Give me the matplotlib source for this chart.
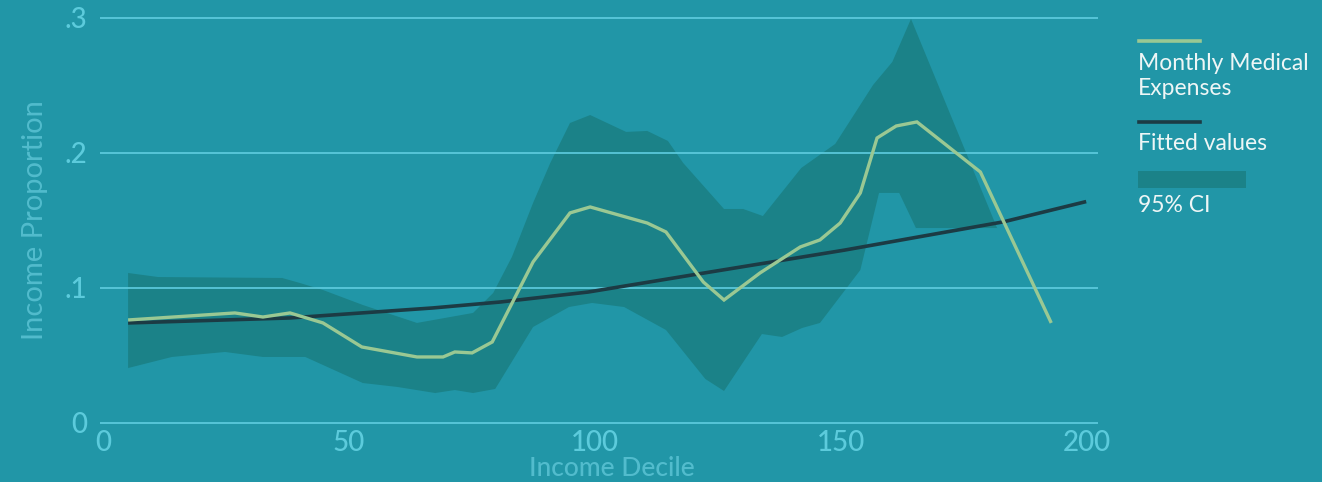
import matplotlib
matplotlib.use("Agg")
import matplotlib.pyplot as plt
from matplotlib.lines import Line2D
from matplotlib.patches import Rectangle

# ---- data ----
med_x = [5.1, 26.8, 32.5, 38.0, 44.7, 52.6, 63.8, 69.1, 71.5, 75.0, 79.1, 87.4, 94.9, 99.0,
         110.6, 114.4, 122.0, 126.2, 133.5, 141.7, 145.7, 149.8, 153.9, 157.3, 161.2, 165.4,
         178.3, 192.7]
med_y = [0.0763, 0.0815, 0.0785, 0.0815, 0.0741, 0.0563, 0.0489, 0.0489, 0.0526, 0.0519,
         0.0600, 0.1193, 0.1556, 0.1600, 0.1481, 0.1415, 0.1044, 0.0911, 0.1111, 0.1304,
         0.1356, 0.1481, 0.1704, 0.2111, 0.2200, 0.2230, 0.1859, 0.0741]

fit_x = [5.1, 38.0, 67.0, 80.7, 98.6, 122.0, 150.6, 166.0, 183.0, 199.8]
fit_y = [0.0741, 0.0778, 0.0852, 0.0896, 0.0970, 0.1110, 0.1280, 0.1380, 0.1490, 0.1640]

ci_up_x = [5.1, 11.2, 36.4, 40.0, 44.7, 52.8, 63.8, 75.2, 79.3, 83.1, 87.4, 90.9, 94.9, 99.0,
           106.3, 110.6, 114.8, 117.9, 126.2, 130.1, 134.1, 141.9, 148.8, 156.5, 160.4,
           164.2, 181.7]
ci_up_y = [0.1111, 0.1081, 0.1074, 0.1037, 0.0985, 0.0874, 0.0741, 0.0815, 0.0963, 0.1230,
           0.1630, 0.1926, 0.2222, 0.2281, 0.2156, 0.2163, 0.2089, 0.1926, 0.1585, 0.1585,
           0.1533, 0.1889, 0.2067, 0.2504, 0.2674, 0.2993, 0.1444]
ci_lo_x = [5.1, 14.0, 24.8, 32.5, 41.1, 52.8, 59.8, 67.5, 71.5, 75.2, 79.7, 87.4, 94.7, 99.4,
           105.9, 114.4, 122.4, 126.2, 133.9, 138.0, 142.1, 145.7, 153.9, 157.7, 161.8,
           165.2, 181.7]
ci_lo_y = [0.0407, 0.0489, 0.0526, 0.0489, 0.0489, 0.0296, 0.0267, 0.0222, 0.0244, 0.0222,
           0.0252, 0.0711, 0.0859, 0.0889, 0.0859, 0.0689, 0.0326, 0.0237, 0.0659, 0.0637,
           0.0704, 0.0741, 0.1133, 0.1704, 0.1704, 0.1444, 0.1444]

x_ticks = [0, 50, 100, 150, 200]
x_ticklabels = ["0", "50", "100", "150", "200"]
y_ticks = [0, 0.1, 0.2, 0.3]
y_ticklabels = ["0", ".1", ".2", ".3"]

legend_labels = ["Monthly Medical\nExpenses", "Fitted values", "95% CI"]

# ---- style ----
BG = "#2196a7"
BAND = "#1b8288"
GREEN = "#9ac893"
DARK = "#1c3b44"
GRID = "#5fcde0"
TICK = "#5ccbdc"
LABEL = "#52bccd"
LEGTXT = "#eef6f6"

W, H = 1322, 482
fig = plt.figure(figsize=(W / 100, H / 100), dpi=100, facecolor=BG)
ax = fig.add_axes([100 / W, (H - 430) / H, 998 / W, 420 / H], facecolor=BG)

ax.set_xlim(-0.61, 202.2)
ax.set_ylim(-0.0052, 0.3059)

ax.set_yticks(y_ticks, labels=y_ticklabels)
ax.set_xticks(x_ticks, labels=x_ticklabels)
ax.grid(axis="y", color=GRID, linewidth=1.2, zorder=0)
ax.grid(axis="x", visible=False)
for s in ax.spines.values():
    s.set_visible(False)
ax.tick_params(axis="both", length=0, colors=TICK, labelsize=20)
ax.tick_params(axis="y", pad=9)
ax.tick_params(axis="x", pad=0)
for lab in ax.get_xticklabels() + ax.get_yticklabels():
    lab.set_family("Lato")
    lab.set_fontweight("medium")

# CI band as polygon
poly_x = ci_up_x + ci_lo_x[::-1]
poly_y = ci_up_y + ci_lo_y[::-1]
ax.fill(poly_x, poly_y, color=BAND, linewidth=0, zorder=1)

ax.plot(fit_x, fit_y, color=DARK, linewidth=2.6, zorder=3, solid_capstyle="butt")
ax.plot(med_x, med_y, color=GREEN, linewidth=2.4, zorder=4, solid_capstyle="butt",
        solid_joinstyle="miter")

ax.set_ylabel("Income Proportion", family="Lato", fontsize=21, color=LABEL, labelpad=12)


def fx(px):
    return px / W


def fy(py):
    return (H - py) / H


fig.text(fx(612), fy(476), "Income Decile", family="Lato", fontsize=19, fontweight="medium",
         color=LABEL, ha="center", va="baseline")

# ---- legend drawn manually in figure pixels ----
fig.add_artist(Line2D([fx(1139), fx(1200)], [fy(41), fy(41)], color=GREEN, linewidth=2.6))
fig.text(fx(1138), fy(76), legend_labels[0], family="Lato", fontsize=16.5, color=LEGTXT,
         va="center", ha="left", linespacing=1.2)
fig.add_artist(Line2D([fx(1139), fx(1200)], [fy(122), fy(122)], color=DARK, linewidth=2.6))
fig.text(fx(1138), fy(143), legend_labels[1], family="Lato", fontsize=16.5, color=LEGTXT,
         va="center", ha="left")
fig.add_artist(Rectangle((fx(1138), fy(188)), fx(1246) - fx(1138), fy(171) - fy(188),
                         transform=fig.transFigure, facecolor=BAND, edgecolor="none"))
fig.text(fx(1138), fy(205), legend_labels[2], family="Lato", fontsize=16.5, color=LEGTXT,
         va="center", ha="left")

fig.savefig("out.png", dpi=100, facecolor=BG)
